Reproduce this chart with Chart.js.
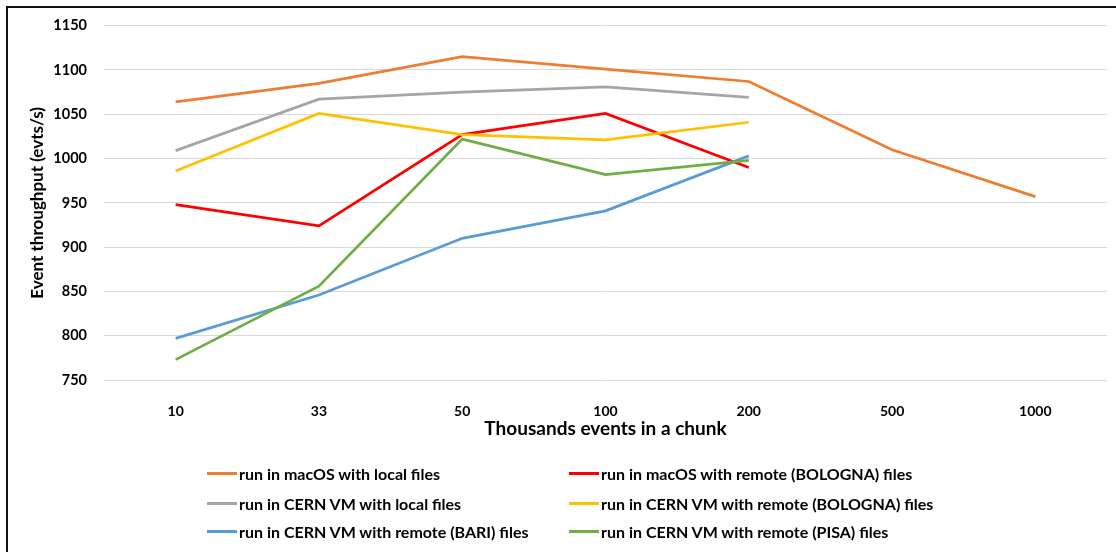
<!DOCTYPE html>
<html>
<head>
<meta charset="utf-8">
<script src="https://cdn.jsdelivr.net/npm/chart.js@4.4.1/dist/chart.umd.min.js"></script>
<style>
  body { margin: 0; background: #fff; }
  #wrap { position: relative; width: 1116px; height: 552px; overflow: hidden; }
  #frame { position: absolute; left: 6px; top: 6px; right: -10px; bottom: -10px;
           border-left: 2px solid #111; border-top: 2px solid #111; pointer-events: none; }
  #legend { position: absolute; left: 0; top: 0; font: bold 16px Lato, sans-serif; color: #000; }
  .item { position: absolute; display: flex; align-items: center; white-space: nowrap; height: 20px; }
  .mark { width: 30px; height: 3px; margin-right: 2px; }
</style>
</head>
<body>
<div id="wrap">
  <canvas id="chart" width="1116" height="552"></canvas>
  <div id="legend"></div>
  <div id="frame"></div>
</div>
<script>
const chunkSizes = ["10", "33", "50", "100", "200", "500", "1000"];
const yTicks = [750, 800, 850, 900, 950, 1000, 1050, 1100, 1150];

const macLocal = [1064, 1085, 1115, 1101, 1087, 1010, 957];
const macBologna = [948, 924, 1027, 1051, 990];
const vmLocal = [1009, 1067, 1075, 1081, 1069];
const vmBologna = [986, 1051, 1027, 1021, 1041];
const vmBari = [797, 846, 910, 941, 1003];
const vmPisa = [773, 856, 1022, 982, 998];

const series = [
  { label: "run in macOS with local files", data: macLocal, color: "#ED7D31" },
  { label: "run in macOS with remote (BOLOGNA) files", data: macBologna, color: "#FF0000" },
  { label: "run in CERN VM with local files", data: vmLocal, color: "#A5A5A5" },
  { label: "run in CERN VM with remote (BOLOGNA) files", data: vmBologna, color: "#FFC000" },
  { label: "run in CERN VM with remote (BARI) files", data: vmBari, color: "#5B9BD5" },
  { label: "run in CERN VM with remote (PISA) files", data: vmPisa, color: "#70AD47" },
];

const font = "Lato, sans-serif";

const chart = new Chart(document.getElementById("chart"), {
  type: "line",
  data: {
    labels: chunkSizes,
    datasets: series.map((s, i) => ({
      label: s.label,
      data: s.data,
      borderColor: s.color,
      backgroundColor: s.color,
      borderWidth: 2.75,
      pointRadius: 0,
      tension: 0,
      order: series.length - i,
    })),
  },
  options: {
    responsive: false,
    animation: false,
    layout: { padding: { top: 24, right: 9, bottom: 112, left: 0 } },
    plugins: { legend: { display: false }, tooltip: { enabled: false } },
    scales: {
      x: {
        offset: true,
        grid: { display: false },
        border: { display: false },
        ticks: { color: "#000", font: { family: font, size: 14, weight: "bold" }, padding: 15 },
        title: {
          display: true,
          text: "Thousands events in a chunk",
          color: "#000",
          font: { family: font, size: 19, weight: "bold" },
          padding: { top: 0, bottom: 0 },
        },
        afterFit: (scale) => { scale.height = 60; },
      },
      y: {
        min: 750,
        max: 1150,
        afterBuildTicks: (scale) => { scale.ticks = yTicks.map((v) => ({ value: v })); },
        grid: { color: "#d9d9d9", lineWidth: 1, drawTicks: false },
        border: { display: false },
        ticks: {
          color: "#000",
          font: { family: font, size: 14.5, weight: "bold" },
          padding: 17,
          callback: (v) => String(v),
        },
        title: {
          display: true,
          text: "Event throughput (evts/s)",
          color: "#000",
          font: { family: font, size: 17, weight: "bold" },
          padding: { top: 27, bottom: 0 },
        },
        afterFit: (scale) => { scale.width = 104; },
      },
    },
  },
});

// legend in two columns, row-wise like the original
const legend = document.getElementById("legend");
const colX = [207, 569];
const rowY = [463, 493, 521];
chart.data.datasets.forEach((ds, i) => {
  const item = document.createElement("div");
  item.className = "item";
  item.style.left = colX[i % 2] + "px";
  item.style.top = rowY[Math.floor(i / 2)] + "px";
  const mark = document.createElement("span");
  mark.className = "mark";
  mark.style.background = ds.borderColor;
  item.appendChild(mark);
  item.appendChild(document.createTextNode(ds.label));
  legend.appendChild(item);
});
</script>
</body>
</html>
